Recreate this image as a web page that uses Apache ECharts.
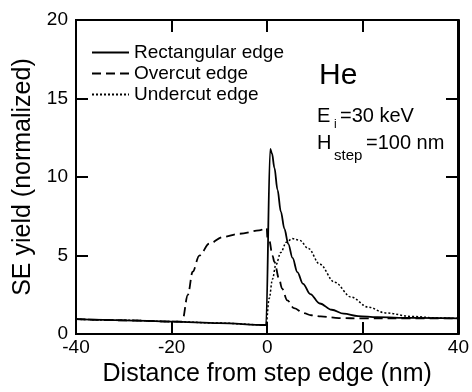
<!DOCTYPE html>
<html><head><meta charset="utf-8">
<script src="https://cdn.jsdelivr.net/npm/echarts@6/dist/echarts.min.js"></script>
<style>html,body{margin:0;padding:0;background:#fff}#c{position:absolute;left:0;top:0;width:472px;height:392px}
.fr{position:absolute;box-sizing:border-box;border:2px solid #000;pointer-events:none;z-index:50}
.tk{position:absolute;background:#000;pointer-events:none;z-index:50}</style>
</head><body><div id="c"></div>
<script>
var seriesNames = ['Rectangular edge', 'Overcut edge', 'Undercut edge'];
var xTicks = [-40, -20, 0, 20, 40];
var yTicks = [0, 5, 10, 15, 20];

var rectX = [-40,-30,-20,-10,-0.25,0.63,1.0,1.5,2.15,2.85,3.6,4.4,5.3,6.3,7.5,9,11,13.5,16,19,23,30,40];
var rectY = [0.95,0.88,0.8,0.7,0.58,11.8,11.5,10.6,9.2,7.8,6.7,5.75,4.85,3.95,3.2,2.55,1.95,1.55,1.3,1.15,1.08,1.03,1.0];

var overX = [-40,-30,-20,-17.8,-16.6,-15.6,-14.2,-12.1,-9.3,-5.8,-1.7,-0.1,0.05,0.4,1.1,1.5,2.5,3.1,4.2,5.6,7.7,9.2,11.2,15,20,30,40];
var overY = [0.95,0.88,0.8,0.79,2.5,3.97,5.0,5.76,6.18,6.39,6.6,6.75,6.1,6.0,5.0,4.6,3.5,2.9,2.15,1.65,1.33,1.2,1.13,1.02,1.0,1.0,1.0];

var underX = [-40,-30,-20,-10,-0.25,0.42,1.1,1.8,2.85,4.0,5.2,6.8,8.6,11,14.1,17.6,21.1,24.7,30.3,35.8,40];
var underY = [0.95,0.88,0.8,0.7,0.58,2.28,3.5,4.4,5.2,5.85,6.08,5.97,5.45,4.45,3.3,2.35,1.72,1.35,1.12,1.02,1.0];

(function () {
  var zip = function (xs, ys) { return xs.map(function (x, i) { return [x, ys[i]]; }); };
  var FONT = "'Liberation Sans', Arial, sans-serif";
  var TICK = 12;
  var GRID = {left: 76, right: 12, top: 20, bottom: 56};
  var W = 472, H = 392;
  var xmin = xTicks[0], xmax = xTicks[xTicks.length - 1], ymin = yTicks[0], ymax = yTicks[yTicks.length - 1];

  var myChart = echarts.init(document.getElementById('c'));
  function axisBase() {
    return {
      type: 'value',
      axisLine: {show: true, onZero: false, lineStyle: {color: '#000', width: 2}},
      axisTick: {show: true, inside: true, length: TICK, lineStyle: {color: '#000', width: 2}},
      splitLine: {show: false}
    };
  }
  try {
    myChart.setOption({
      animation: false,
      backgroundColor: '#fff',
      grid: {left: GRID.left, right: GRID.right, top: GRID.top, bottom: GRID.bottom, containLabel: false},
      legend: {
        orient: 'vertical', left: 86, top: 38, itemWidth: 37, itemHeight: 14, itemGap: 2,
        itemStyle: {opacity: 0},
        textStyle: {fontFamily: FONT, fontSize: 19, color: '#000'},
        data: seriesNames
      },
      xAxis: [
        Object.assign(axisBase(), {
          position: 'bottom', min: xmin, max: xmax, interval: 20,
          axisLabel: {show: true, color: '#000', fontFamily: FONT, fontSize: 19, margin: 4},
          name: 'Distance from step edge (nm)', nameLocation: 'middle', nameGap: 26,
          nameTextStyle: {fontFamily: FONT, fontSize: 25, color: '#000'}
        }),
        Object.assign(axisBase(), {position: 'top', min: xmin, max: xmax, interval: 20, axisLabel: {show: false}})
      ],
      yAxis: [
        Object.assign(axisBase(), {
          position: 'left', min: ymin, max: ymax, interval: 5,
          axisLabel: {show: true, color: '#000', fontFamily: FONT, fontSize: 19, margin: 8},
          name: 'SE yield (normalized)', nameLocation: 'middle', nameGap: 40,
          nameTextStyle: {fontFamily: FONT, fontSize: 25, color: '#000'}
        }),
        Object.assign(axisBase(), {position: 'right', min: ymin, max: ymax, interval: 5, axisLabel: {show: false}})
      ],
      series: [
        {name: seriesNames[0], type: 'line', data: zip(rectX, rectY), symbol: 'none', showSymbol: false, smooth: 0.35, smoothMonotone: 'x',
         lineStyle: {color: '#000', width: 1.8, type: 'solid'}, itemStyle: {color: '#000'}, z: 5},
        {name: seriesNames[1], type: 'line', data: zip(overX, overY), symbol: 'none', showSymbol: false, smooth: 0.35, smoothMonotone: 'x',
         lineStyle: {color: '#000', width: 1.8, type: [9, 5]}, itemStyle: {color: '#000'}, z: 4},
        {name: seriesNames[2], type: 'line', data: zip(underX, underY), symbol: 'none', showSymbol: false, smooth: 0.35, smoothMonotone: 'x',
         lineStyle: {color: '#000', width: 1.5, type: [2, 2]}, itemStyle: {color: '#000'}, z: 3}
      ],
      graphic: [
        {type: 'text', left: 319, top: 61, style: {text: 'He', fontFamily: FONT, fontSize: 30, fill: '#000'}},
        {type: 'text', left: 317, top: 106, style: {text: 'E', fontFamily: FONT, fontSize: 20, fill: '#000'}},
        {type: 'text', left: 334, top: 119, style: {text: 'i', fontFamily: FONT, fontSize: 12, fill: '#000'}},
        {type: 'text', left: 340, top: 106, style: {text: '=30 keV', fontFamily: FONT, fontSize: 20, fill: '#000'}},
        {type: 'text', left: 317, top: 133, style: {text: 'H', fontFamily: FONT, fontSize: 20, fill: '#000'}},
        {type: 'text', left: 334, top: 148, style: {text: 'step', fontFamily: FONT, fontSize: 15, fill: '#000'}},
        {type: 'text', left: 366, top: 133, style: {text: '=100 nm', fontFamily: FONT, fontSize: 20, fill: '#000'}}
      ]
    });
  } catch (e) { /* keep going so the frame is still drawn */ }

  // Position helper through the chart's own axis scales, with a grid-based fallback
  function toPx(x, y) {
    var p = null;
    try { p = myChart.convertToPixel({xAxisIndex: 0, yAxisIndex: 0}, [x, y]); } catch (e) { p = null; }
    if (!p || !isFinite(p[0]) || !isFinite(p[1])) {
      p = [GRID.left + (x - xmin) / (xmax - xmin) * (W - GRID.left - GRID.right),
           H - GRID.bottom - (y - ymin) / (ymax - ymin) * (H - GRID.top - GRID.bottom)];
    }
    return p;
  }

  function drawFrame() {
    var tl = toPx(xmin, ymax), br = toPx(xmax, ymin);
    var fr = document.createElement('div');
    fr.className = 'fr';
    fr.style.left = Math.round(tl[0] - 1) + 'px';
    fr.style.top = Math.round(tl[1] - 1) + 'px';
    fr.style.width = Math.round(br[0] - tl[0] + 2) + 'px';
    fr.style.height = Math.round(br[1] - tl[1] + 2) + 'px';
    document.body.appendChild(fr);
    function tick(x, y, w, h) {
      var d = document.createElement('div');
      d.className = 'tk';
      d.style.left = Math.round(x) + 'px'; d.style.top = Math.round(y) + 'px';
      d.style.width = w + 'px'; d.style.height = h + 'px';
      document.body.appendChild(d);
    }
    xTicks.slice(1, -1).forEach(function (v) {
      var b = toPx(v, ymin), t = toPx(v, ymax);
      tick(b[0] - 1, b[1] - TICK, 2, TICK);
      tick(t[0] - 1, t[1], 2, TICK);
    });
    yTicks.slice(1, -1).forEach(function (v) {
      var l = toPx(xmin, v), r = toPx(xmax, v);
      tick(l[0], l[1] - 1, TICK, 2);
      tick(r[0] - TICK, r[1] - 1, TICK, 2);
    });
  }
  try { drawFrame(); } catch (e) {}
})();
</script></body></html>
